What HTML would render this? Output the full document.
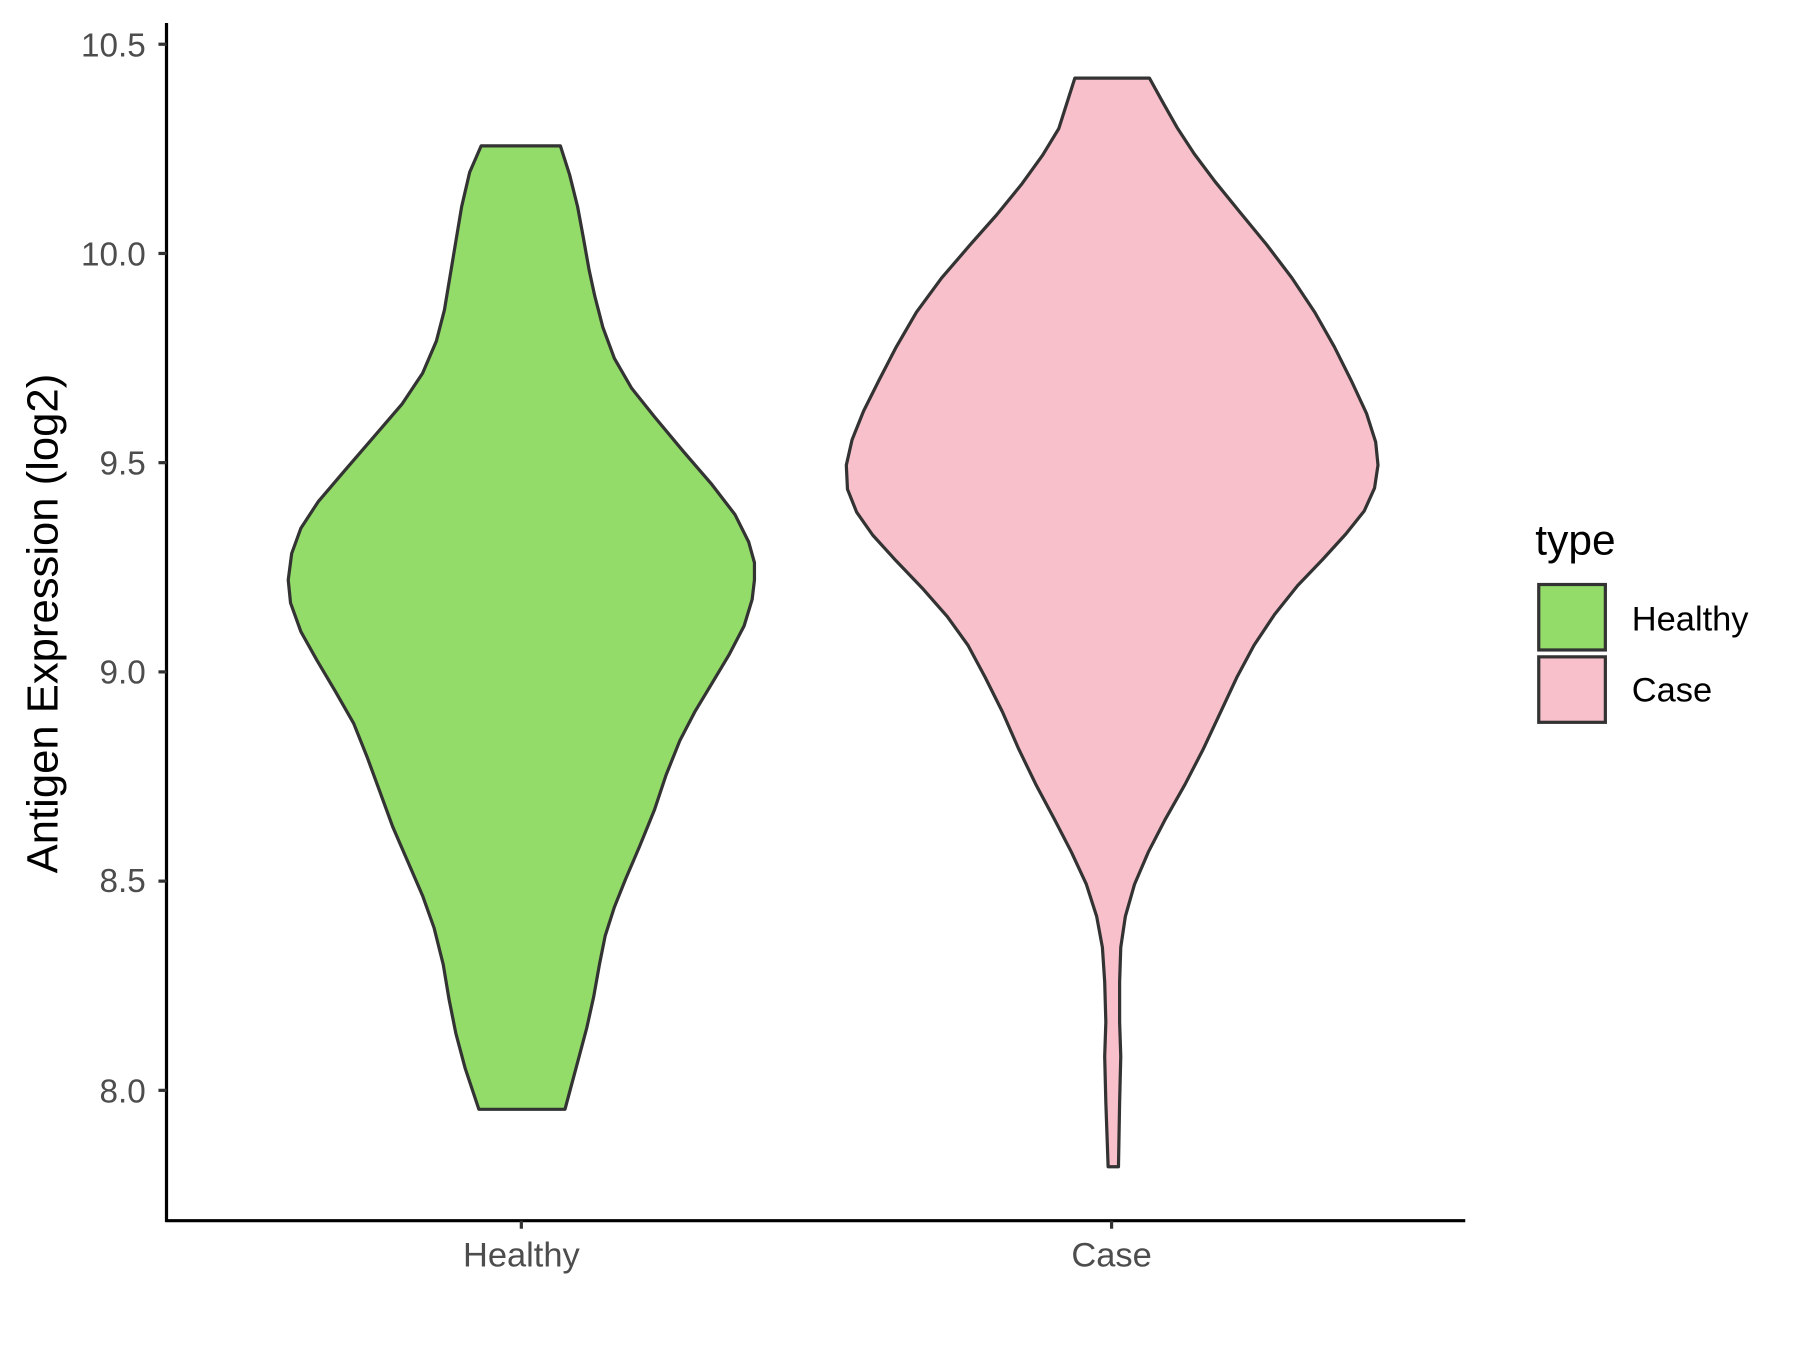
<!DOCTYPE html>
<html><head><style>body{margin:0;background:#fff}svg{display:block}</style></head><body>
<svg width="1800" height="1350" viewBox="0 0 1567.5 1175.6" xmlns="http://www.w3.org/2000/svg" font-family="Liberation Sans, Arial, sans-serif">
<rect width="1567.5" height="1175.6" fill="#fff"/>
<path fill="#93dc69" stroke="#333" stroke-width="2.8" stroke-linejoin="round" d="M419,127 L488,127 L496,152 L503,180 L508,207 L513,235 L518,258 L525,285 L535,312 L550,338 L570,363 L595,393 L620,422 L640,448 L652,472 L657,490 L657,505 L655,522 L648,545 L635,570 L620,595 L605,620 L592,645 L580,675 L570,705 L557,737 L545,765 L535,790 L527,815 L522,840 L517,868 L511,895 L503,925 L492,966 L417,966 L405,930 L397,900 L391,870 L386,840 L378,808 L368,780 L355,750 L342,720 L331,690 L320,660 L308,630 L292,602 L276,575 L262,550 L253,525 L251,505 L254,482 L262,460 L277,437 L300,410 L325,381 L350,352 L368,325 L380,297 L387,270 L392,240 L397,210 L402,180 L409,150 Z"/>
<path fill="#f8c0cb" stroke="#333" stroke-width="2.8" stroke-linejoin="round" d="M936,68 L1001,68 L1012,88 L1025,111 L1040,134 L1058,158 L1080,185 L1103,213 L1125,242 L1145,272 L1162,302 L1177,332 L1190,360 L1198,385 L1200,405 L1197,425 L1188,445 L1172,465 L1152,487 L1130,510 L1110,535 L1092,562 L1077,590 L1063,620 L1048,652 L1032,683 L1015,713 L1000,742 L988,770 L980,798 L976,825 L975,855 L975,890 L976,920 L975,960 L974,1016 L965,1016 L963,960 L962,920 L963,890 L962,855 L960,825 L955,798 L946,770 L933,742 L918,713 L902,683 L887,652 L873,620 L858,590 L843,562 L825,537 L803,512 L780,488 L760,466 L746,446 L738,426 L737,405 L742,383 L752,358 L765,332 L780,303 L798,272 L820,242 L845,213 L868,187 L890,160 L908,135 L922,112 Z"/>
<g stroke="#000" stroke-width="2.8" fill="none">
<line x1="145" y1="20" x2="145" y2="1064"/>
<line x1="144" y1="1063" x2="1276" y2="1063"/>
</g>
<g stroke="#333" stroke-width="2.8">
<line x1="138" y1="38.5" x2="145" y2="38.5"/><line x1="138" y1="220.7" x2="145" y2="220.7"/>
<line x1="138" y1="402.9" x2="145" y2="402.9"/><line x1="138" y1="585.1" x2="145" y2="585.1"/>
<line x1="138" y1="767.3" x2="145" y2="767.3"/><line x1="138" y1="949.5" x2="145" y2="949.5"/>
<line x1="454" y1="1063" x2="454" y2="1070"/><line x1="968" y1="1063" x2="968" y2="1070"/>
</g>
<g fill="#4d4d4d" font-size="29" text-anchor="end">
<text x="127" y="49">10.5</text><text x="127" y="231">10.0</text><text x="127" y="413">9.5</text>
<text x="127" y="595">9.0</text><text x="127" y="777">8.5</text><text x="127" y="960">8.0</text>
</g>
<g fill="#4d4d4d" font-size="30" text-anchor="middle">
<text x="454" y="1103">Healthy</text><text x="968" y="1103">Case</text>
</g>
<text transform="translate(50,543) rotate(-90)" text-anchor="middle" font-size="38" fill="#000">Antigen Expression (log2)</text>
<text x="1337" y="483" font-size="37" fill="#000">type</text>
<rect x="1340" y="509" width="58" height="57" fill="#93dc69" stroke="#333" stroke-width="2.8"/>
<rect x="1340" y="572" width="58" height="57" fill="#f8c0cb" stroke="#333" stroke-width="2.8"/>
<text x="1421" y="549" font-size="30" fill="#000">Healthy</text>
<text x="1421" y="611" font-size="30" fill="#000">Case</text>
</svg>
</body></html>
